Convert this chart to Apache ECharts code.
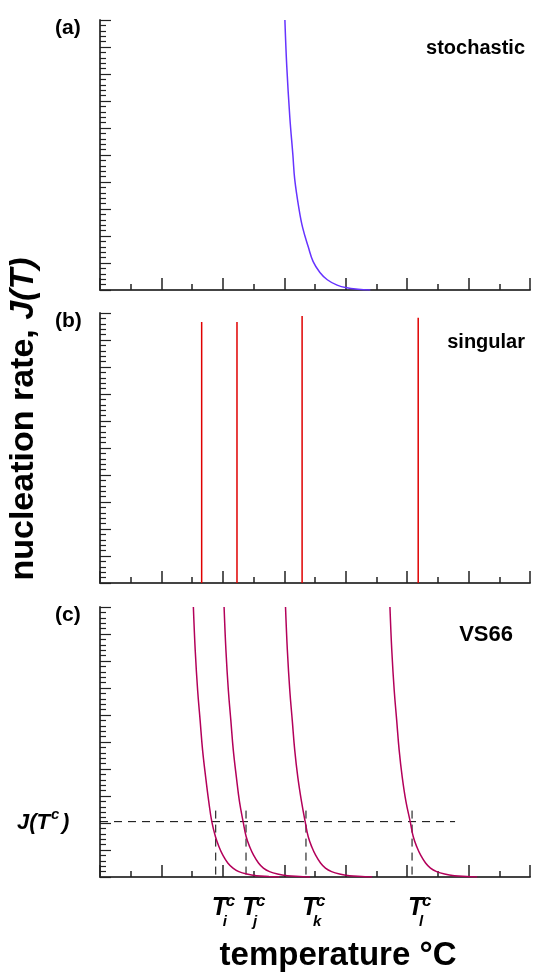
<!DOCTYPE html>
<html><head><meta charset="utf-8">
<script src="https://cdn.jsdelivr.net/npm/echarts@6/dist/echarts.min.js"></script>
<style>html,body{margin:0;padding:0;background:#fff}#c{width:536px;height:977px}</style>
</head><body><div id="c"></div>
<script>
// ---- data ----
// (a) stochastic
const stochT = [3.01, 3.04, 3.09, 3.14, 3.17, 3.24, 3.30, 3.39, 3.47, 3.58, 3.70, 3.86, 4.02, 4.20, 4.40];
const stochJ = [10, 8.3, 6.4, 5.0, 4.1, 3.0, 2.3, 1.6, 1.05, 0.65, 0.38, 0.18, 0.08, 0.03, 0.0];
// (b) singular spikes
const spikeT = [1.655, 2.23, 3.29, 5.18];
const spikeJ = [9.67, 9.67, 9.89, 9.82];
// (c) VS66 curves
const vs1T = [1.52, 1.55, 1.59, 1.63, 1.67, 1.72, 1.77, 1.82, 1.88, 1.94, 2.00, 2.08, 2.165, 2.26, 2.39, 2.55, 2.75, 2.92];
const vs2T = [2.02, 2.05, 2.09, 2.13, 2.17, 2.22, 2.27, 2.33, 2.38, 2.44, 2.50, 2.58, 2.66, 2.76, 2.89, 3.05, 3.25, 3.42];
const vs3T = [3.02, 3.05, 3.09, 3.13, 3.17, 3.22, 3.28, 3.34, 3.39, 3.45, 3.51, 3.59, 3.67, 3.77, 3.90, 4.06, 4.26, 4.43];
const vs4T = [4.72, 4.75, 4.79, 4.83, 4.87, 4.92, 4.98, 5.05, 5.10, 5.16, 5.22, 5.30, 5.38, 5.48, 5.61, 5.77, 5.97, 6.14];
const vsJ  = [10, 8.4, 6.9, 5.8, 4.7, 3.7, 2.8, 2.05, 1.49, 1.1, 0.81, 0.52, 0.33, 0.2, 0.11, 0.05, 0.02, 0];
// critical temperatures and rate
const critT = [1.884, 2.377, 3.353, 5.08];
const critSub = ['i', 'j', 'k', 'l'];
const critJ = 2.05;
const critLineTop = 2.46;
const critLineEnd = 5.78;
// axes
const tMin = 0, tMax = 7, tStep = 1;
const jMin = 0, jMax = 10, jStep = 1;

// ---- chart ----
const FONT = '"Liberation Sans", Arial, Helvetica, sans-serif';
const chart = echarts.init(document.getElementById('c'), null, {renderer: 'canvas'});
const zip = (a, b) => a.map((v, i) => [v, b[i]]);

const grids = [
  {left: 100, width: 430, top: 20, height: 270},
  {left: 100, width: 430, top: 313, height: 270},
  {left: 100, width: 430, top: 607, height: 270}
];
function xAx(i) {
  return {type: 'value', gridIndex: i, min: tMin, max: tMax, interval: tStep,
    axisLine: {show: true, onZero: false, lineStyle: {color: '#444', width: 2}},
    axisTick: {show: true, inside: true, length: 12, lineStyle: {color: '#222', width: 1.5}},
    minorTick: {show: true, splitNumber: 2, length: 6, lineStyle: {color: '#222', width: 1.5}},
    axisLabel: {show: false}, splitLine: {show: false}, minorSplitLine: {show: false}};
}
function yAx(i) {
  return {type: 'value', gridIndex: i, min: jMin, max: jMax, interval: jStep,
    axisLine: {show: true, onZero: false, lineStyle: {color: '#444', width: 2}},
    axisTick: {show: true, inside: true, length: 11, lineStyle: {color: '#222', width: 1.2}},
    minorTick: {show: true, splitNumber: 5, length: 6, lineStyle: {color: '#222', width: 1.2}},
    axisLabel: {show: false}, splitLine: {show: false}, minorSplitLine: {show: false}};
}
const series = [];
series.push({type: 'line', xAxisIndex: 0, yAxisIndex: 0, data: zip(stochT, stochJ), smooth: 0.4,
  symbol: 'none', lineStyle: {color: '#6633ff', width: 1.5}, z: 3});
spikeT.forEach((t, i) => series.push({type: 'line', xAxisIndex: 1, yAxisIndex: 1,
  data: [[t, 0], [t, spikeJ[i]]], symbol: 'none', lineStyle: {color: '#e00000', width: 1.5}, z: 3}));
[vs1T, vs2T, vs3T, vs4T].forEach(T => series.push({type: 'line', xAxisIndex: 2, yAxisIndex: 2,
  data: zip(T, vsJ), smooth: 0.4, symbol: 'none', lineStyle: {color: '#b3005a', width: 1.5}, z: 3}));
series.push({type: 'line', xAxisIndex: 2, yAxisIndex: 2, data: [[tMin, critJ], [critLineEnd, critJ]],
  symbol: 'none', lineStyle: {color: '#000', width: 1, type: [8, 6]}, z: 2});
critT.forEach(t => series.push({type: 'line', xAxisIndex: 2, yAxisIndex: 2,
  data: [[t, critLineTop], [t, 0]], symbol: 'none', lineStyle: {color: '#000', width: 1, type: [8, 6]}, z: 2}));

chart.setOption({
  animation: false,
  backgroundColor: '#fff',
  grid: grids,
  xAxis: [xAx(0), xAx(1), xAx(2)],
  yAxis: [yAx(0), yAx(1), yAx(2)],
  series: series
});

// ---- text ----
const g = [];
function txt(x, y, text, size, opts) {
  g.push(Object.assign({type: 'text', x: x, y: y, silent: true,
    style: Object.assign({text: text, font: 'bold ' + size + 'px ' + FONT, fill: '#000',
      align: 'left', verticalAlign: 'middle'}, (opts && opts.style) || {})},
    opts && opts.el || {}));
}
['(a)', '(b)', '(c)'].forEach((s, i) => txt(55, grids[i].top + 8, s, 21));
txt(525, 48, 'stochastic', 20, {style: {align: 'right'}});
txt(525, 342, 'singular', 20, {style: {align: 'right'}});
txt(513, 635, 'VS66', 22, {style: {align: 'right'}});

// y title (rotated)
g.push({type: 'text', x: 24, y: 419, rotation: Math.PI / 2, silent: true,
  style: {text: '{n|nucleation rate, }{i|J(T)}', align: 'center', verticalAlign: 'middle',
    rich: {n: {font: 'bold 34px ' + FONT, fill: '#000'}, i: {font: 'italic bold 34px ' + FONT, fill: '#000'}}}});
// x title
txt(338, 956, 'temperature °C', 33, {style: {align: 'center'}});

// J(T^c) label
const yC = chart.convertToPixel({yAxisIndex: 2}, critJ);
txt(17, yC + 1, 'J(T', 22, {style: {font: 'italic bold 22px ' + FONT}});
txt(51, yC - 7, 'c', 15, {style: {font: 'italic bold 15px ' + FONT}});
txt(62, yC + 1, ')', 22, {style: {font: 'italic bold 22px ' + FONT}});

// T^c_x labels
critT.forEach((t, i) => {
  const px = chart.convertToPixel({xAxisIndex: 2}, t);
  const x0 = px - 4;
  txt(x0, 908, 'T', 25, {style: {font: 'italic bold 25px ' + FONT}});
  txt(x0 + 14, 901, 'c', 17, {style: {font: 'italic bold 17px ' + FONT}});
  txt(x0 + 11, 922, critSub[i], 15, {style: {font: 'italic bold 15px ' + FONT}});
});
chart.setOption({graphic: g});
</script></body></html>
